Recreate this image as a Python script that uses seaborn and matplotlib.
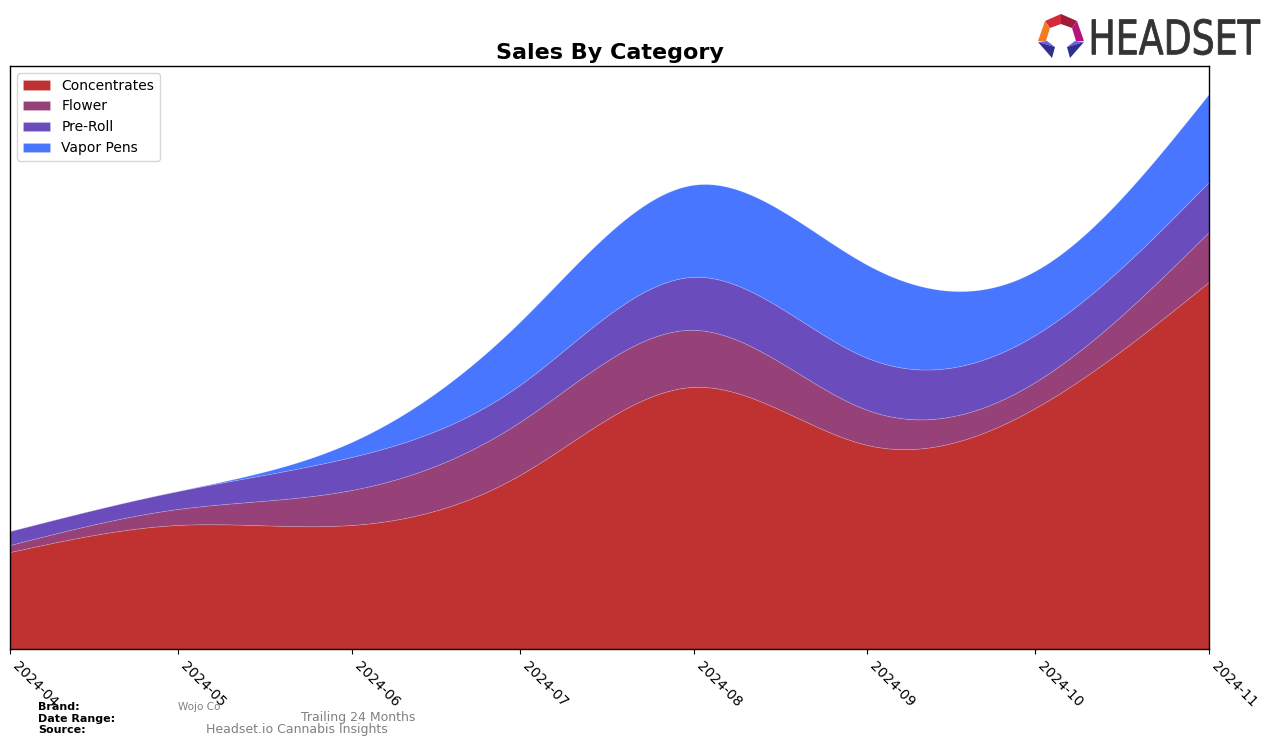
import numpy as np
import pandas as pd
import matplotlib
matplotlib.use("Agg")
import matplotlib.pyplot as plt
import matplotlib.dates as mdates
import seaborn as sns
from matplotlib.textpath import TextPath
from matplotlib.patches import PathPatch, Polygon
from matplotlib.font_manager import FontProperties
from matplotlib.transforms import Affine2D

# monthly values (arbitrary sales units)
months = ["2024-04", "2024-05", "2024-06", "2024-07", "2024-08", "2024-09", "2024-10", "2024-11"]
concentrates = [97, 124, 124, 174, 262, 204, 241, 367]
flower = [7, 16, 35, 53, 57, 35, 26, 50]
pre_roll = [14, 18, 33, 37, 53, 52, 47, 50]
vapor_pens = [0, 0, 15, 63, 92, 93, 64, 88]

categories = ["Concentrates", "Flower", "Pre-Roll", "Vapor Pens"]
colors = ["#c03232", "#964177", "#6b4cbc", "#4876ff"]

brand = "Wojo Co"
date_range = "Trailing 24 Months"
source = "Headset.io Cannabis Insights"


def spline(x, y, xs):
    # natural cubic spline, only used to draw the curve smoothly
    x = np.asarray(x, float)
    y = np.asarray(y, float)
    n = len(x)
    h = np.diff(x)
    A = np.zeros((n, n))
    b = np.zeros(n)
    A[0, 0] = A[-1, -1] = 1
    for i in range(1, n - 1):
        A[i, i - 1] = h[i - 1]
        A[i, i] = 2 * (h[i - 1] + h[i])
        A[i, i + 1] = h[i]
        b[i] = 3 * ((y[i + 1] - y[i]) / h[i] - (y[i] - y[i - 1]) / h[i - 1])
    c = np.linalg.solve(A, b)
    bb = (y[1:] - y[:-1]) / h - h * (2 * c[:-1] + c[1:]) / 3
    d = (c[1:] - c[:-1]) / (3 * h)
    idx = np.clip(np.searchsorted(x, xs) - 1, 0, n - 2)
    t = xs - x[idx]
    return y[idx] + bb[idx] * t + c[idx] * t ** 2 + d[idx] * t ** 3


df = pd.DataFrame({
    "month": pd.to_datetime(months),
    "Concentrates": concentrates,
    "Flower": flower,
    "Pre-Roll": pre_roll,
    "Vapor Pens": vapor_pens,
})

sns.set_style("ticks")
plt.rcParams["font.family"] = ["DejaVu Sans"]
plt.rcParams.update({"text.color": "black", "xtick.color": "black",
                     "ytick.color": "black", "axes.labelcolor": "black",
                     "axes.edgecolor": "black"})

fig = plt.figure(figsize=(12.76, 7.46), dpi=100)
ax = fig.add_axes([10 / 1276, 97 / 746, 1199 / 1276, 583 / 746])

xnum = mdates.date2num(df["month"])
xs = np.linspace(xnum[0], xnum[-1], 600)
ys = [np.clip(spline(xnum, df[c].values, xs), 0, None) for c in categories]

ax.stackplot(xs, ys, labels=categories, colors=colors,
             edgecolor=(1, 1, 1, 0.18), linewidth=0.6)

total = df[categories].sum(axis=1)
ax.set_xlim(xnum[0], xnum[-1])
ax.set_ylim(0, total.max() * 1.05)
ax.xaxis_date()
ax.xaxis.set_major_locator(mdates.MonthLocator())
ax.xaxis.set_major_formatter(mdates.DateFormatter("%Y-%m"))
plt.setp(ax.get_xticklabels(), rotation=-45, ha="left", fontsize=10, color="black")
ax.set_yticks([])
ax.set_xlabel("")
for s in ax.spines.values():
    s.set_color("black")
    s.set_linewidth(1)
ax.set_title("Sales By Category", fontsize=16, fontweight="bold", pad=5, color="black")
ax.legend(loc="upper left", fontsize=10, frameon=True)

# footer
fig.text(38 / 1276, 1 - 707 / 746, "Brand:", fontsize=8, fontweight="bold", va="center")
fig.text(38 / 1276, 1 - 719 / 746, "Date Range:", fontsize=8, fontweight="bold", va="center")
fig.text(38 / 1276, 1 - 730 / 746, "Source:", fontsize=8, fontweight="bold", va="center")
fig.text(178 / 1276, 1 - 707 / 746, brand, fontsize=7.5, color="gray", va="center")
fig.text(301 / 1276, 1 - 718 / 746, date_range, fontsize=9, color="gray", va="center")
fig.text(206 / 1276, 1 - 730 / 746, source, fontsize=9, color="gray", va="center")

# logo overlay in pixel units
lax = fig.add_axes([0, 0, 1, 1], zorder=5)
lax.set_xlim(0, 1276)
lax.set_ylim(746, 0)
lax.axis("off")
lax.patch.set_alpha(0)

tp = TextPath((0, 0), "HEADSET", size=100, prop=FontProperties(family="DejaVu Sans"))
ext = tp.get_extents()
x0, x1, y0, y1 = 1092, 1260, 19, 55
tr = (Affine2D().translate(-ext.x0, -ext.y0)
      .scale((x1 - x0) / ext.width, -(y1 - y0) / ext.height)
      .translate(x0, y1))
lax.add_patch(PathPatch(tr.transform_path(tp), color="#333333", lw=0.6))

logo = [
    ([(1045, 21), (1061, 14), (1061, 24), (1050, 28)], "#d42a3a"),
    ([(1061, 14), (1077, 21), (1072, 28), (1061, 24)], "#a11a3c"),
    ([(1045, 21), (1050, 28), (1046, 41), (1038, 41)], "#f47b20"),
    ([(1077, 21), (1084, 41), (1076, 41), (1072, 28)], "#b5157a"),
    ([(1038, 42), (1047, 41), (1055, 47)], "#6a5fe0"),
    ([(1038, 42), (1055, 47), (1052, 58)], "#2e2f8f"),
    ([(1084, 42), (1075, 41), (1067, 47)], "#6a5fe0"),
    ([(1084, 42), (1067, 47), (1070, 58)], "#2e2f8f"),
]
for pts, col in logo:
    lax.add_patch(Polygon(pts, closed=True, color=col, lw=0))

fig.savefig("out.png", dpi=100)
